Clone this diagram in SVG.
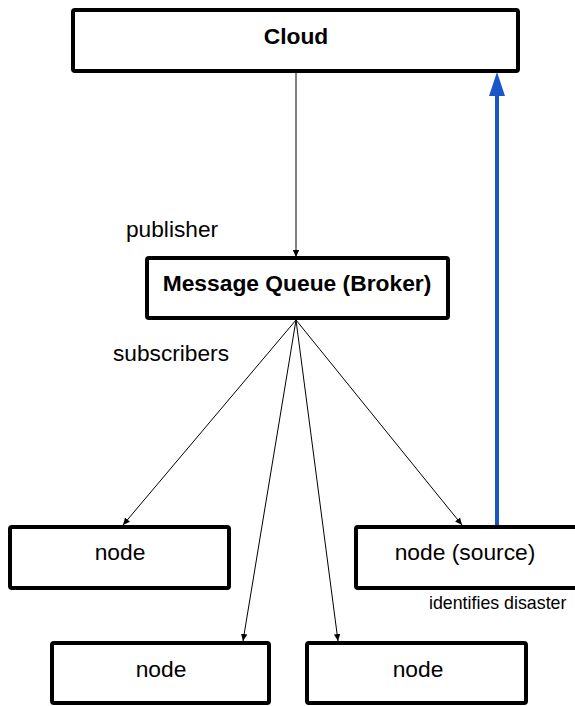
<svg xmlns="http://www.w3.org/2000/svg" width="575" height="706" viewBox="0 0 575 706">
<style>
.box{fill:#fff;stroke:#000;stroke-width:4;}
.t{font-family:"Liberation Sans",Arial,sans-serif;font-size:22.8px;fill:#000;text-anchor:middle;}
.b{font-weight:bold;}
.lbl{font-family:"Liberation Sans",Arial,sans-serif;font-size:22.7px;fill:#000;}
.thin{stroke:#000;stroke-width:1;fill:none;marker-end:url(#ah);}
</style>
<defs>
<marker id="ah" markerWidth="8" markerHeight="8" refX="7" refY="4" orient="auto" markerUnits="userSpaceOnUse">
<path d="M0,0.8 L7,4 L0,7.2 Z" fill="#000"/>
</marker>
</defs>
<rect width="575" height="706" fill="#fff"/>
<g id="cloud"><rect class="box" x="73" y="10" width="445" height="61" rx="2"/><text class="t b" x="296" y="44">Cloud</text></g>
<g id="broker"><rect class="box" x="147" y="258" width="301" height="60" rx="2"/><text class="t b" x="297" y="291">Message Queue (Broker)</text></g>
<g id="node1"><rect class="box" x="10" y="527" width="219" height="61" rx="2"/><text class="t" x="120" y="560">node</text></g>
<g id="node-source"><rect class="box" x="356" y="527" width="225" height="61" rx="2"/><text class="t" x="465" y="560">node (source)</text></g>
<g id="node2"><rect class="box" x="52" y="643" width="217" height="60" rx="2"/><text class="t" x="161" y="677">node</text></g>
<g id="node3"><rect class="box" x="307" y="643" width="219" height="60" rx="2"/><text class="t" x="418" y="677">node</text></g>
<g id="labels">
<text class="lbl" x="126" y="237">publisher</text>
<text class="lbl" x="113" y="361">subscribers</text>
<text class="lbl" x="429" y="609" style="font-size:17.8px">identifies disaster</text>
</g>
<g id="connectors">
<line class="thin" x1="296" y1="72" x2="296" y2="257"/>
<line class="thin" x1="296" y1="320" x2="123" y2="525"/>
<line class="thin" x1="296" y1="320" x2="243" y2="641"/>
<line class="thin" x1="296" y1="320" x2="338" y2="641"/>
<line class="thin" x1="296" y1="320" x2="462" y2="525"/>
<line x1="497" y1="525" x2="497" y2="92" stroke="#1a56c8" stroke-width="4"/>
<path d="M497,72 L505,96 L489,96 Z" fill="#1a56c8"/>
</g>
</svg>
